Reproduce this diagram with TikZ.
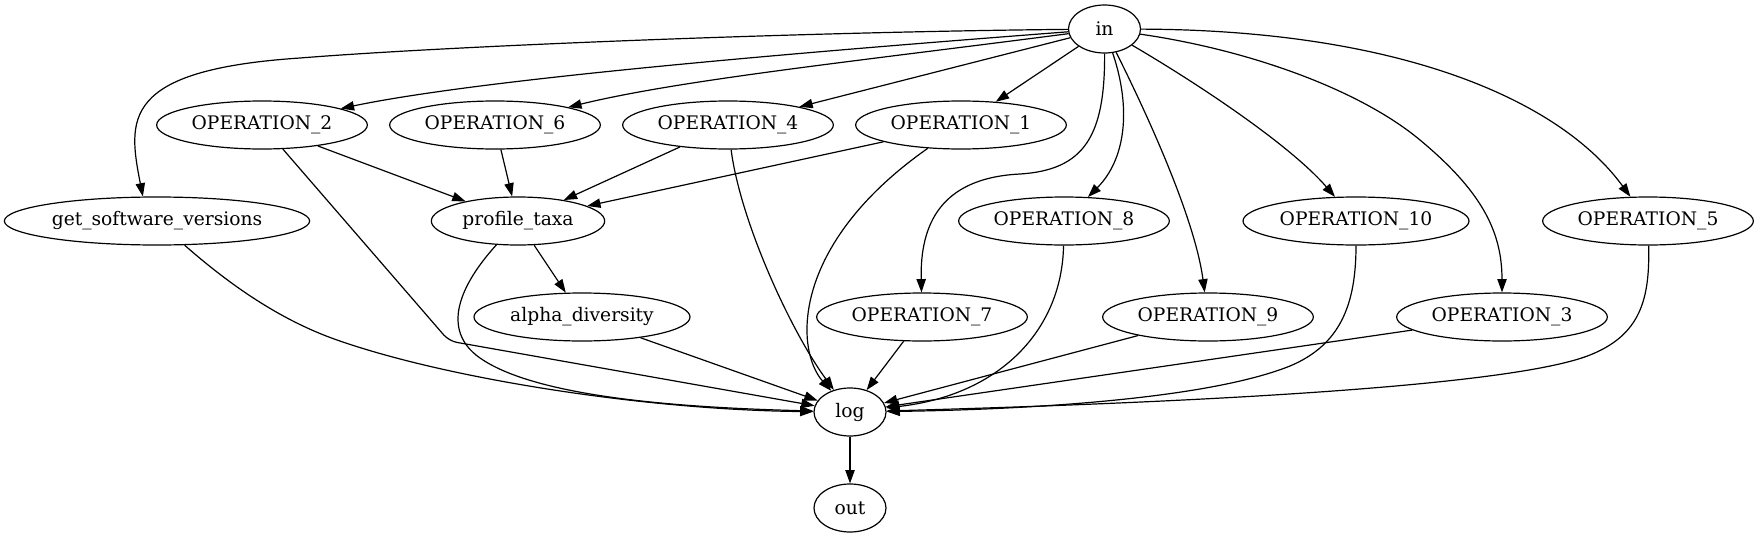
\documentclass[tikz,border=0pt]{standalone}
\usepackage{fontspec}
\setmainfont{DejaVu Serif}
\usetikzlibrary{arrows.meta,shapes.geometric}
\begin{document}
\begin{tikzpicture}[x=0.75pt,y=-0.75pt,
  nd/.style={draw, ellipse, inner sep=0pt, minimum height=36pt, line width=0.9pt, font=\fontsize{14}{17}\selectfont},
  small/.style={nd, minimum width=54pt},
  opw/.style={nd, minimum width=158pt},
  ed/.style={line width=0.9pt, -{Triangle[length=10pt,width=7pt]}}
]
\useasboundingbox (0,0) rectangle (1759,539);
% nodes
\node[small] (in) at (1104.5,29) {in};
\node[opw] (op2) at (262,125) {OPERATION\_2};
\node[opw] (op6) at (495,125) {OPERATION\_6};
\node[opw] (op4) at (728,125) {OPERATION\_4};
\node[opw] (op1) at (961,125) {OPERATION\_1};
\node[nd, minimum width=229pt] (gsv) at (157,221) {get\_software\_versions};
\node[nd, minimum width=130pt] (pt) at (518,221) {profile\_taxa};
\node[opw] (op8) at (1064,221) {OPERATION\_8};
\node[nd, minimum width=169.5pt] (op10) at (1356,221) {OPERATION\_10};
\node[opw] (op5) at (1648,221) {OPERATION\_5};
\node[nd, minimum width=162pt] (alpha) at (582,317) {alpha\_diversity};
\node[opw] (op7) at (922,317) {OPERATION\_7};
\node[opw] (op9) at (1208,317) {OPERATION\_9};
\node[opw] (op3) at (1502,317) {OPERATION\_3};
\node[small] (log) at (850,412) {log};
\node[small] (out) at (850,508) {out};
% edges from in
\draw[ed] (in) .. controls (800,32) and (450,46) .. (300,58) .. controls (120,70) and (128,120) .. (gsv.120);
\draw[ed] (in) .. controls (818,51) and (487,78) .. (op2);
\draw[ed] (in) .. controls (850,62) and (680,80) .. (op6);
\draw[ed] (in) -- (op4);
\draw[ed] (in) -- (op1);
\draw[ed] (in) .. controls (1105,135) and (1085,170) .. (1020,174) .. controls (940,178) and (920,225) .. (op7);
\draw[ed] (in) .. controls (1132,110) and (1125,160) .. (op8);
\draw[ed] (in) .. controls (1150,120) and (1195,220) .. (op9);
\draw[ed] (in) .. controls (1200,85) and (1290,145) .. (op10);
\draw[ed] (in) .. controls (1250,50) and (1360,90) .. (1420,140) .. controls (1480,190) and (1502,230) .. (op3);
\draw[ed] (in) .. controls (1400,30) and (1560,100) .. (op5);
% to profile_taxa
\draw[ed] (op2) -- (pt);
\draw[ed] (op6) -- (pt);
\draw[ed] (op4) -- (pt);
\draw[ed] (op1) -- (pt);
\draw[ed] (pt) -- (alpha);
% to log
\draw[ed] (gsv) .. controls (230,285) and (280,320) .. (337,340) .. controls (451,380) and (650,410) .. (log);
\draw[ed, rounded corners=6pt] (op2) -- (449,341) -- (log);
\draw[ed] (pt) .. controls (460,285) and (440,330) .. (480,358) .. controls (540,400) and (700,408) .. (log);
\draw[ed] (op4) .. controls (740,220) and (790,330) .. (log);
\draw[ed] (op1) .. controls (790,245) and (795,350) .. (log);
\draw[ed] (alpha) -- (log);
\draw[ed] (op7) -- (log);
\draw[ed] (op8) .. controls (1062,330) and (1000,395) .. (log);
\draw[ed] (op9) -- (log);
\draw[ed] (op10) .. controls (1356,305) and (1340,345) .. (1290,366) .. controls (1200,402) and (1000,410) .. (log);
\draw[ed] (op3) -- (log);
\draw[ed] (op5) .. controls (1650,300) and (1640,335) .. (1590,355) .. controls (1500,391) and (1100,405) .. (log);
\draw[ed] (log) -- (out);
\end{tikzpicture}
\end{document}
